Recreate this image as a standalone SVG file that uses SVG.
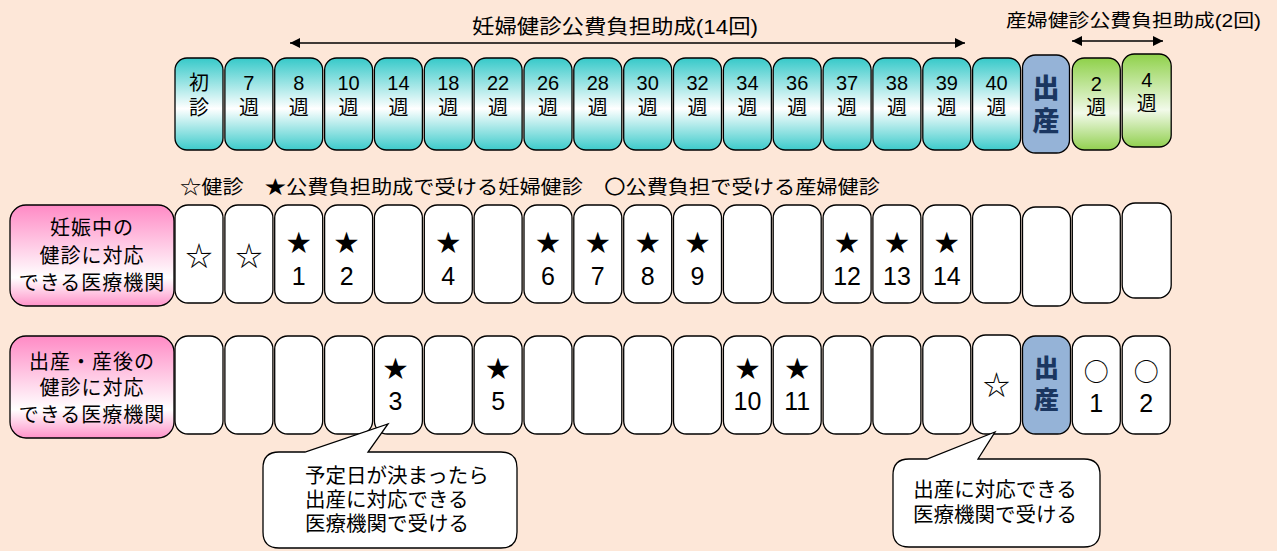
<svg xmlns="http://www.w3.org/2000/svg" width="1277" height="551" viewBox="0 0 1277 551">
<defs>
<linearGradient id="gTeal" x1="0" y1="0" x2="0" y2="1">
<stop offset="0" stop-color="#36C9C9"/><stop offset="0.55" stop-color="#FFFFFF"/><stop offset="1" stop-color="#3CCBCB"/>
</linearGradient>
<linearGradient id="gGreen" x1="0" y1="0" x2="0" y2="1">
<stop offset="0" stop-color="#8FD14A"/><stop offset="0.6" stop-color="#F2FAEA"/><stop offset="1" stop-color="#92D050"/>
</linearGradient>
<linearGradient id="gPink" x1="0" y1="0" x2="0" y2="1">
<stop offset="0" stop-color="#FF8AC5"/><stop offset="0.72" stop-color="#FFFFFF"/><stop offset="1" stop-color="#FF93C9"/>
</linearGradient>
<marker id="ah" viewBox="0 0 10 10" refX="10" refY="5" markerWidth="11" markerHeight="10" orient="auto-start-reverse" markerUnits="userSpaceOnUse"><path d="M0,0 L10,5 L0,10 z" fill="#000"/></marker>
<style>
.bx{stroke:#000;stroke-width:1.3}
.teal{fill:url(#gTeal)}
.green{fill:url(#gGreen)}
.pink{fill:url(#gPink)}
.wh{fill:#FFFFFF}
.blue{fill:#95B3D7}
.t{font-family:"Liberation Sans","Noto Sans CJK JP","Noto Sans CJK SC",sans-serif;fill:#000}
.c{text-anchor:middle}
.wk{font-size:20px}
.bd{font-family:"Liberation Sans","Noto Sans CJK JP","Noto Sans CJK SC",sans-serif;font-weight:900;fill:#1A3660;text-anchor:middle}
.st{font-family:"Noto Sans CJK JP","Noto Sans CJK SC",sans-serif;font-size:24px}
.ow{font-family:"Noto Sans CJK JP","Noto Sans CJK SC",sans-serif;font-size:27px}
.oc{font-family:"Noto Sans CJK JP","Noto Sans CJK SC",sans-serif;font-size:25px}
.n{font-family:"Liberation Sans",Arial,sans-serif;font-size:25px}
.lb{font-size:20px;letter-spacing:1px}
.co{font-size:20.5px}
.ln{stroke:#000;stroke-width:1.5;fill:none}
</style>
</defs>
<rect width="1277" height="551" fill="#FDE7D8"/>

<text class="t" x="472" y="34" font-size="20" textLength="286" lengthAdjust="spacingAndGlyphs">妊婦健診公費負担助成(14回)</text>
<text class="t" x="1006" y="27" font-size="18" textLength="255" lengthAdjust="spacingAndGlyphs">産婦健診公費負担助成(2回)</text>

<g id="connectors">
<line class="ln" x1="290" y1="43" x2="965" y2="43" marker-start="url(#ah)" marker-end="url(#ah)"/>
<line class="ln" x1="1072" y1="41" x2="1163" y2="41" marker-start="url(#ah)" marker-end="url(#ah)"/>
</g>

<g id="top-row">
<g id="t0" transform="translate(175,0)"><rect class="bx teal" x="0" y="58" width="48" height="92" rx="12"/><text class="t c wk"><tspan x="24" y="90">初</tspan><tspan x="24" y="115">診</tspan></text></g>
<g id="t1" transform="translate(224.9,0)"><rect class="bx teal" x="0" y="58" width="48" height="92" rx="12"/><text class="t c wk"><tspan x="24" y="90">7</tspan><tspan x="24" y="115">週</tspan></text></g>
<g id="t2" transform="translate(274.7,0)"><rect class="bx teal" x="0" y="58" width="48" height="92" rx="12"/><text class="t c wk"><tspan x="24" y="90">8</tspan><tspan x="24" y="115">週</tspan></text></g>
<g id="t3" transform="translate(324.6,0)"><rect class="bx teal" x="0" y="58" width="48" height="92" rx="12"/><text class="t c wk"><tspan x="24" y="90">10</tspan><tspan x="24" y="115">週</tspan></text></g>
<g id="t4" transform="translate(374.4,0)"><rect class="bx teal" x="0" y="58" width="48" height="92" rx="12"/><text class="t c wk"><tspan x="24" y="90">14</tspan><tspan x="24" y="115">週</tspan></text></g>
<g id="t5" transform="translate(424.3,0)"><rect class="bx teal" x="0" y="58" width="48" height="92" rx="12"/><text class="t c wk"><tspan x="24" y="90">18</tspan><tspan x="24" y="115">週</tspan></text></g>
<g id="t6" transform="translate(474.1,0)"><rect class="bx teal" x="0" y="58" width="48" height="92" rx="12"/><text class="t c wk"><tspan x="24" y="90">22</tspan><tspan x="24" y="115">週</tspan></text></g>
<g id="t7" transform="translate(524,0)"><rect class="bx teal" x="0" y="58" width="48" height="92" rx="12"/><text class="t c wk"><tspan x="24" y="90">26</tspan><tspan x="24" y="115">週</tspan></text></g>
<g id="t8" transform="translate(573.8,0)"><rect class="bx teal" x="0" y="58" width="48" height="92" rx="12"/><text class="t c wk"><tspan x="24" y="90">28</tspan><tspan x="24" y="115">週</tspan></text></g>
<g id="t9" transform="translate(623.7,0)"><rect class="bx teal" x="0" y="58" width="48" height="92" rx="12"/><text class="t c wk"><tspan x="24" y="90">30</tspan><tspan x="24" y="115">週</tspan></text></g>
<g id="t10" transform="translate(673.5,0)"><rect class="bx teal" x="0" y="58" width="48" height="92" rx="12"/><text class="t c wk"><tspan x="24" y="90">32</tspan><tspan x="24" y="115">週</tspan></text></g>
<g id="t11" transform="translate(723.4,0)"><rect class="bx teal" x="0" y="58" width="48" height="92" rx="12"/><text class="t c wk"><tspan x="24" y="90">34</tspan><tspan x="24" y="115">週</tspan></text></g>
<g id="t12" transform="translate(773.2,0)"><rect class="bx teal" x="0" y="58" width="48" height="92" rx="12"/><text class="t c wk"><tspan x="24" y="90">36</tspan><tspan x="24" y="115">週</tspan></text></g>
<g id="t13" transform="translate(823.1,0)"><rect class="bx teal" x="0" y="58" width="48" height="92" rx="12"/><text class="t c wk"><tspan x="24" y="90">37</tspan><tspan x="24" y="115">週</tspan></text></g>
<g id="t14" transform="translate(872.9,0)"><rect class="bx teal" x="0" y="58" width="48" height="92" rx="12"/><text class="t c wk"><tspan x="24" y="90">38</tspan><tspan x="24" y="115">週</tspan></text></g>
<g id="t15" transform="translate(922.8,0)"><rect class="bx teal" x="0" y="58" width="48" height="92" rx="12"/><text class="t c wk"><tspan x="24" y="90">39</tspan><tspan x="24" y="115">週</tspan></text></g>
<g id="t16" transform="translate(972.6,0)"><rect class="bx teal" x="0" y="58" width="48" height="92" rx="12"/><text class="t c wk"><tspan x="24" y="90">40</tspan><tspan x="24" y="115">週</tspan></text></g>
<g id="t17" transform="translate(1022.5,0)"><rect class="bx blue" x="0" y="55" width="47" height="98" rx="13"/><text class="bd" font-size="27"><tspan x="23.5" y="98">出</tspan><tspan x="23.5" y="131">産</tspan></text></g>
<g id="t18" transform="translate(1072.3,0)"><rect class="bx green" x="0" y="58" width="48" height="92" rx="12"/><text class="t c wk"><tspan x="24" y="91">2</tspan><tspan x="24" y="115">週</tspan></text></g>
<g id="t19" transform="translate(1122.2,0)"><rect class="bx green" x="0" y="54" width="49" height="93" rx="12"/><text class="t c wk"><tspan x="24.5" y="87">4</tspan><tspan x="24.5" y="111">週</tspan></text></g>
</g>

<text class="t" x="180" y="194" font-size="19" textLength="700" lengthAdjust="spacingAndGlyphs">☆健診　★公費負担助成で受ける妊婦健診　〇公費負担で受ける産婦健診</text>

<g id="row1-label"><rect class="bx pink" x="10" y="205" width="164" height="101" rx="16"/>
<text class="t c lb"><tspan x="92" y="235">妊娠中の</tspan><tspan x="92" y="263">健診に対応</tspan><tspan x="92" y="290">できる医療機関</tspan></text></g>

<g id="row1">
<g id="r1-0" transform="translate(175,0)"><rect class="bx wh" x="0" y="205" width="48" height="98" rx="13"/><text class="ow c" x="24" y="266">☆</text></g>
<g id="r1-1" transform="translate(224.9,0)"><rect class="bx wh" x="0" y="205" width="48" height="98" rx="13"/><text class="ow c" x="24" y="266">☆</text></g>
<g id="r1-2" transform="translate(274.7,0)"><rect class="bx wh" x="0" y="205" width="48" height="98" rx="13"/><text class="c"><tspan class="st" x="24" y="251">★</tspan><tspan class="n" x="24" y="285">1</tspan></text></g>
<g id="r1-3" transform="translate(324.6,0)"><rect class="bx wh" x="0" y="205" width="48" height="98" rx="13"/><text class="c"><tspan class="st" x="22" y="251">★</tspan><tspan class="n" x="22" y="285">2</tspan></text></g>
<g id="r1-4" transform="translate(374.4,0)"><rect class="bx wh" x="0" y="205" width="48" height="98" rx="13"/></g>
<g id="r1-5" transform="translate(424.3,0)"><rect class="bx wh" x="0" y="205" width="48" height="98" rx="13"/><text class="c"><tspan class="st" x="24" y="251">★</tspan><tspan class="n" x="24" y="285">4</tspan></text></g>
<g id="r1-6" transform="translate(474.1,0)"><rect class="bx wh" x="0" y="205" width="48" height="98" rx="13"/></g>
<g id="r1-7" transform="translate(524,0)"><rect class="bx wh" x="0" y="205" width="48" height="98" rx="13"/><text class="c"><tspan class="st" x="24" y="251">★</tspan><tspan class="n" x="24" y="285">6</tspan></text></g>
<g id="r1-8" transform="translate(573.8,0)"><rect class="bx wh" x="0" y="205" width="48" height="98" rx="13"/><text class="c"><tspan class="st" x="24" y="251">★</tspan><tspan class="n" x="24" y="285">7</tspan></text></g>
<g id="r1-9" transform="translate(623.7,0)"><rect class="bx wh" x="0" y="205" width="48" height="98" rx="13"/><text class="c"><tspan class="st" x="24" y="251">★</tspan><tspan class="n" x="24" y="285">8</tspan></text></g>
<g id="r1-10" transform="translate(673.5,0)"><rect class="bx wh" x="0" y="205" width="48" height="98" rx="13"/><text class="c"><tspan class="st" x="24" y="251">★</tspan><tspan class="n" x="24" y="285">9</tspan></text></g>
<g id="r1-11" transform="translate(723.4,0)"><rect class="bx wh" x="0" y="205" width="48" height="98" rx="13"/></g>
<g id="r1-12" transform="translate(773.2,0)"><rect class="bx wh" x="0" y="205" width="48" height="98" rx="13"/></g>
<g id="r1-13" transform="translate(823.1,0)"><rect class="bx wh" x="0" y="205" width="48" height="98" rx="13"/><text class="c"><tspan class="st" x="24" y="251">★</tspan><tspan class="n" x="24" y="285">12</tspan></text></g>
<g id="r1-14" transform="translate(872.9,0)"><rect class="bx wh" x="0" y="205" width="48" height="98" rx="13"/><text class="c"><tspan class="st" x="24" y="251">★</tspan><tspan class="n" x="24" y="285">13</tspan></text></g>
<g id="r1-15" transform="translate(922.8,0)"><rect class="bx wh" x="0" y="205" width="48" height="98" rx="13"/><text class="c"><tspan class="st" x="24" y="251">★</tspan><tspan class="n" x="24" y="285">14</tspan></text></g>
<g id="r1-16" transform="translate(972.6,0)"><rect class="bx wh" x="0" y="205" width="48" height="98" rx="13"/></g>
<g id="r1-17" transform="translate(1022.5,0)"><rect class="bx wh" x="0" y="207" width="48" height="99" rx="13"/></g>
<g id="r1-18" transform="translate(1072.3,0)"><rect class="bx wh" x="0" y="205" width="48" height="98" rx="13"/></g>
<g id="r1-19" transform="translate(1122.2,0)"><rect class="bx wh" x="0" y="203" width="49" height="95" rx="13"/></g>
</g>

<g id="row2-label"><rect class="bx pink" x="10" y="336" width="164" height="102" rx="16"/>
<text class="t c lb"><tspan x="92" y="369">出産・産後の</tspan><tspan x="92" y="395">健診に対応</tspan><tspan x="92" y="422">できる医療機関</tspan></text></g>

<g id="row2">
<g id="r2-0" transform="translate(175,0)"><rect class="bx wh" x="0" y="336" width="48" height="98" rx="13"/></g>
<g id="r2-1" transform="translate(224.9,0)"><rect class="bx wh" x="0" y="336" width="48" height="98" rx="13"/></g>
<g id="r2-2" transform="translate(274.7,0)"><rect class="bx wh" x="0" y="336" width="48" height="98" rx="13"/></g>
<g id="r2-3" transform="translate(324.6,0)"><rect class="bx wh" x="0" y="336" width="48" height="98" rx="13"/></g>
<g id="r2-4" transform="translate(374.4,0)"><rect class="bx wh" x="0" y="336" width="48" height="98" rx="13"/><text class="c"><tspan class="st" x="21" y="377">★</tspan><tspan class="n" x="21" y="410">3</tspan></text></g>
<g id="r2-5" transform="translate(424.3,0)"><rect class="bx wh" x="0" y="336" width="48" height="98" rx="13"/></g>
<g id="r2-6" transform="translate(474.1,0)"><rect class="bx wh" x="0" y="336" width="48" height="98" rx="13"/><text class="c"><tspan class="st" x="24" y="377">★</tspan><tspan class="n" x="24" y="410">5</tspan></text></g>
<g id="r2-7" transform="translate(524,0)"><rect class="bx wh" x="0" y="336" width="48" height="98" rx="13"/></g>
<g id="r2-8" transform="translate(573.8,0)"><rect class="bx wh" x="0" y="336" width="48" height="98" rx="13"/></g>
<g id="r2-9" transform="translate(623.7,0)"><rect class="bx wh" x="0" y="336" width="48" height="98" rx="13"/></g>
<g id="r2-10" transform="translate(673.5,0)"><rect class="bx wh" x="0" y="336" width="48" height="98" rx="13"/></g>
<g id="r2-11" transform="translate(723.4,0)"><rect class="bx wh" x="0" y="336" width="48" height="98" rx="13"/><text class="c"><tspan class="st" x="24" y="377">★</tspan><tspan class="n" x="24" y="410">10</tspan></text></g>
<g id="r2-12" transform="translate(773.2,0)"><rect class="bx wh" x="0" y="336" width="48" height="98" rx="13"/><text class="c"><tspan class="st" x="24" y="377">★</tspan><tspan class="n" x="24" y="410">11</tspan></text></g>
<g id="r2-13" transform="translate(823.1,0)"><rect class="bx wh" x="0" y="336" width="48" height="98" rx="13"/></g>
<g id="r2-14" transform="translate(872.9,0)"><rect class="bx wh" x="0" y="336" width="48" height="98" rx="13"/></g>
<g id="r2-15" transform="translate(922.8,0)"><rect class="bx wh" x="0" y="336" width="48" height="98" rx="13"/></g>
<g id="r2-16" transform="translate(972.6,0)"><rect class="bx wh" x="0" y="335" width="48" height="99" rx="13"/><text class="ow c" x="24" y="395">☆</text></g>
<g id="r2-17" transform="translate(1022.5,0)"><rect class="bx blue" x="0" y="336" width="48" height="98" rx="13"/><text class="bd" font-size="25"><tspan x="24" y="377">出</tspan><tspan x="24" y="409">産</tspan></text></g>
<g id="r2-18" transform="translate(1072.3,0)"><rect class="bx wh" x="0" y="336" width="48" height="98" rx="13"/><text class="c"><tspan class="oc" x="24" y="381">○</tspan><tspan class="n" x="24" y="412">1</tspan></text></g>
<g id="r2-19" transform="translate(1122.2,0)"><rect class="bx wh" x="0" y="336" width="48" height="98" rx="13"/><text class="c"><tspan class="oc" x="24" y="381">○</tspan><tspan class="n" x="24" y="412">2</tspan></text></g>
</g>

<g id="callout1">
<path class="bx wh" d="M279,452 L305,452 L388,424 L368,452 L501,452 Q517,452 517,468 L517,532 Q517,548 501,548 L279,548 Q263,548 263,532 L263,468 Q263,452 279,452 Z"/>
<text class="t co"><tspan x="305" y="483">予定日が決まったら</tspan><tspan x="305" y="507">出産に対応できる</tspan><tspan x="305" y="531">医療機関で受ける</tspan></text>
</g>

<g id="callout2">
<path class="bx wh" d="M909,459 L927,459 L995,432 L978,459 L1084,459 Q1100,459 1100,475 L1100,531 Q1100,547 1084,547 L909,547 Q893,547 893,531 L893,475 Q893,459 909,459 Z"/>
<text class="t c co"><tspan x="995" y="497">出産に対応できる</tspan><tspan x="995" y="522">医療機関で受ける</tspan></text>
</g>
</svg>
